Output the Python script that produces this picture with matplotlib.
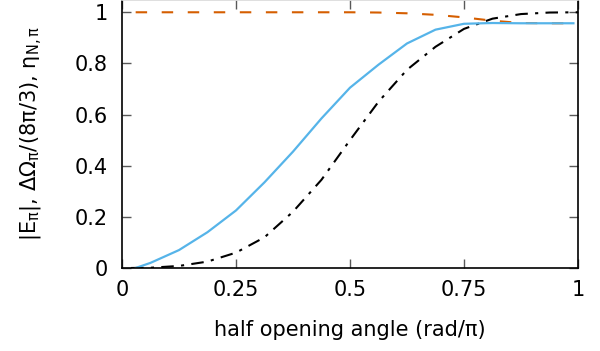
import numpy as np
import matplotlib
matplotlib.use("Agg")
import matplotlib.pyplot as plt

plt.rcParams['font.family'] = ['DejaVu Sans']
plt.rcParams['mathtext.default'] = 'regular'

# half opening angle (rad/pi) sampled in steps of 1/16
angle = [0.03, 0.0625, 0.125, 0.1875, 0.25, 0.3125, 0.375, 0.4375, 0.5,
         0.5625, 0.625, 0.6875, 0.75, 0.8125, 0.875, 0.9375, 0.99]
E_pi = [0.0, 0.02, 0.07, 0.14, 0.225, 0.335, 0.455, 0.585, 0.705,
        0.795, 0.878, 0.932, 0.955, 0.958, 0.957, 0.957, 0.957]
eta = [1.0, 1.0, 1.0, 1.0, 1.0, 1.0, 1.0, 1.0, 1.0,
       0.999, 0.996, 0.99, 0.98, 0.967, 0.958, 0.957, 0.957]

angle_b = [0.02, 0.0625, 0.125, 0.1875, 0.25, 0.3125, 0.375, 0.4375, 0.5,
           0.5625, 0.625, 0.6875, 0.75, 0.8125, 0.875, 0.9375, 1.0]
dOmega = [0.0, 0.001, 0.008, 0.025, 0.06, 0.12, 0.22, 0.345, 0.5,
          0.65, 0.775, 0.865, 0.935, 0.975, 0.993, 0.999, 1.0]

fig = plt.figure(figsize=(6, 3.51), dpi=100)
ax = fig.add_axes([0.2033, 0.2365, 0.76, 0.7635])

ax.plot(angle, eta, color='#D55E00', lw=1.5, dashes=(5.5, 7))
ax.plot(angle_b, dOmega, color='black', lw=1.5, dashes=(6, 3.5, 1.5, 3.5))
ax.plot(angle, E_pi, color='#56B4E9', lw=1.6)

ax.set_xlim(0, 1)
ax.set_ylim(0, 1.048)
ax.set_xticks([0, 0.25, 0.5, 0.75, 1])
ax.set_xticklabels(['0', '0.25', '0.5', '0.75', '1'])
ax.set_yticks([0, 0.2, 0.4, 0.6, 0.8, 1])
ax.set_yticklabels(['0', '0.2', '0.4', '0.6', '0.8', '1'])
ax.tick_params(direction='in', length=6.5, width=1, color='0.35',
               top=True, right=True, labelsize=15)
ax.tick_params(axis='x', pad=9)
ax.tick_params(axis='y', pad=10)
for s in ax.spines.values():
    s.set_linewidth(1.2)
ax.spines['top'].set_color('0.85')

ax.set_xlabel('half opening angle (rad/π)', fontsize=15, labelpad=14)
ax.set_ylabel('|E$_π$|, ΔΩ$_π$/(8π/3), η$_{N,π}$', fontsize=15, labelpad=22)

fig.savefig('out.png', dpi=100)
